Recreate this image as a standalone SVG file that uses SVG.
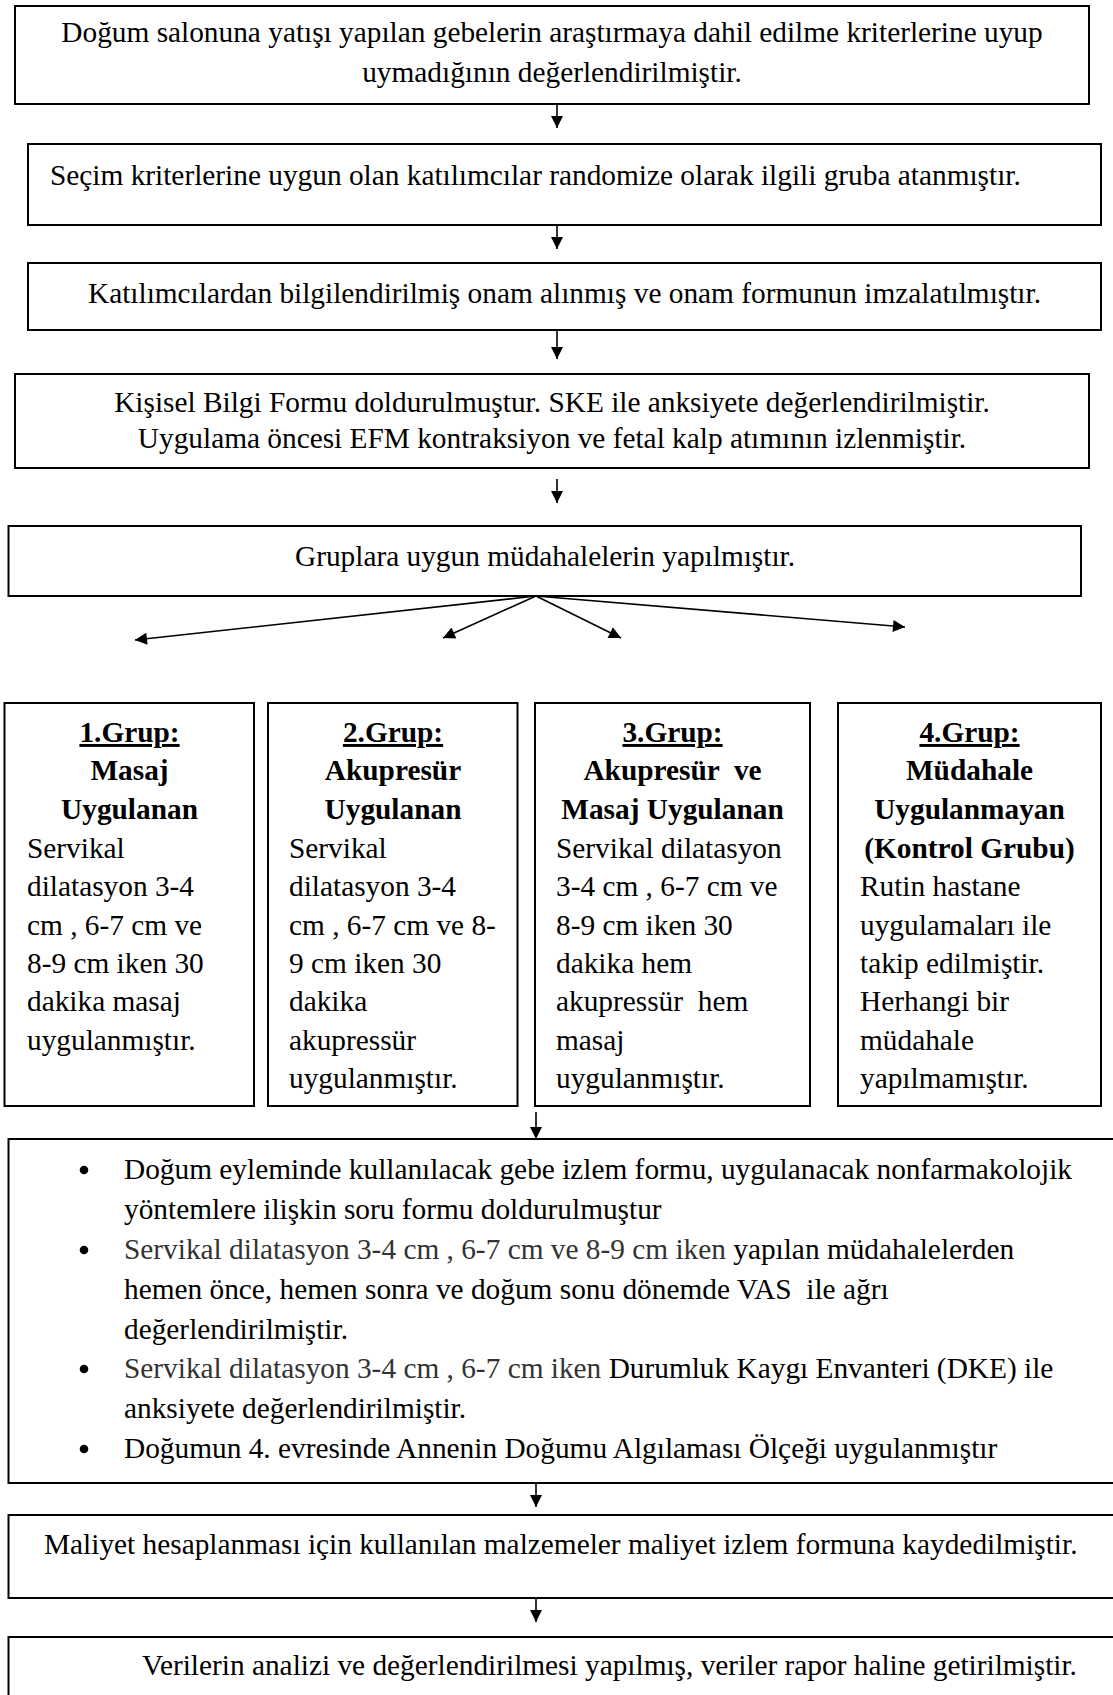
<svg xmlns="http://www.w3.org/2000/svg" width="1113" height="1695" viewBox="0 0 1113 1695">
<style>
.box{fill:#fff;stroke:#000;stroke-width:2}
.t{font-family:"Liberation Serif","Times New Roman",serif;font-size:29.33px;fill:#000}
.c{text-anchor:middle}
.b{font-weight:bold}
.u{text-decoration:underline}
.g{fill:#333}
.ln{stroke:#000;stroke-width:1.6;fill:none}
</style>
<defs>
<marker id="ah" viewBox="0 0 10 10" refX="10" refY="5" markerWidth="15" markerHeight="12" markerUnits="userSpaceOnUse" orient="auto">
<path d="M0,0 L10,5 L0,10 z" fill="#000"/>
</marker>
</defs>
<rect width="1113" height="1695" fill="#fff"/>

<g id="n1">
<rect class="box" x="15" y="6" width="1074" height="98"/>
<text class="t c" x="552" y="42">Doğum salonuna yatışı yapılan gebelerin araştırmaya dahil edilme kriterlerine uyup</text>
<text class="t c" x="552" y="82">uymadığının değerlendirilmiştir.</text>
</g>
<g id="n2">
<rect class="box" x="28" y="144" width="1073" height="81"/>
<text class="t" x="50" y="185">Seçim kriterlerine uygun olan katılımcılar randomize olarak ilgili gruba atanmıştır.</text>
</g>
<g id="n3">
<rect class="box" x="28" y="263" width="1073" height="67"/>
<text class="t c" x="564.5" y="303">Katılımcılardan bilgilendirilmiş onam alınmış ve onam formunun imzalatılmıştır.</text>
</g>
<g id="n4">
<rect class="box" x="15" y="374" width="1074" height="94"/>
<text class="t c" x="552" y="412">Kişisel Bilgi Formu doldurulmuştur. SKE ile anksiyete değerlendirilmiştir.</text>
<text class="t c" x="552" y="448">Uygulama öncesi EFM kontraksiyon ve fetal kalp atımının izlenmiştir.</text>
</g>
<g id="n5">
<rect class="box" x="8.5" y="526" width="1072.5" height="70"/>
<text class="t c" x="545" y="566">Gruplara uygun müdahalelerin yapılmıştır.</text>
</g>

<g id="g1">
<rect class="box" x="4.5" y="703" width="249.5" height="403"/>
<text class="t c b u" x="129.5" y="742">1.Grup:</text>
<text class="t c b" x="129.5" y="780">Masaj</text>
<text class="t c b" x="129.5" y="819">Uygulanan</text>
<text class="t" x="27" y="858">Servikal</text>
<text class="t" x="27" y="896">dilatasyon 3-4</text>
<text class="t" x="27" y="935">cm , 6-7 cm ve</text>
<text class="t" x="27" y="973">8-9 cm iken 30</text>
<text class="t" x="27" y="1011">dakika masaj</text>
<text class="t" x="27" y="1050">uygulanmıştır.</text>
</g>
<g id="g2">
<rect class="box" x="268" y="703" width="249.5" height="403"/>
<text class="t c b u" x="393" y="742">2.Grup:</text>
<text class="t c b" x="393" y="780">Akupresür</text>
<text class="t c b" x="393" y="819">Uygulanan</text>
<text class="t" x="289" y="858">Servikal</text>
<text class="t" x="289" y="896">dilatasyon 3-4</text>
<text class="t" x="289" y="935">cm , 6-7 cm ve 8-</text>
<text class="t" x="289" y="973">9 cm iken 30</text>
<text class="t" x="289" y="1011">dakika</text>
<text class="t" x="289" y="1050">akupressür</text>
<text class="t" x="289" y="1088">uygulanmıştır.</text>
</g>
<g id="g3">
<rect class="box" x="535" y="703" width="275" height="403"/>
<text class="t c b u" x="672.5" y="742">3.Grup:</text>
<text class="t c b" x="672.5" y="780" xml:space="preserve">Akupresür  ve</text>
<text class="t c b" x="672.5" y="819">Masaj Uygulanan</text>
<text class="t" x="556" y="858">Servikal dilatasyon</text>
<text class="t" x="556" y="896">3-4 cm , 6-7 cm ve</text>
<text class="t" x="556" y="935">8-9 cm iken 30</text>
<text class="t" x="556" y="973">dakika hem</text>
<text class="t" x="556" y="1011" xml:space="preserve">akupressür  hem</text>
<text class="t" x="556" y="1050">masaj</text>
<text class="t" x="556" y="1088">uygulanmıştır.</text>
</g>
<g id="g4">
<rect class="box" x="838" y="703" width="263" height="403"/>
<text class="t c b u" x="969.5" y="742">4.Grup:</text>
<text class="t c b" x="969.5" y="780">Müdahale</text>
<text class="t c b" x="969.5" y="819">Uygulanmayan</text>
<text class="t c b" x="969.5" y="858">(Kontrol Grubu)</text>
<text class="t" x="860" y="896">Rutin hastane</text>
<text class="t" x="860" y="935">uygulamaları ile</text>
<text class="t" x="860" y="973">takip edilmiştir.</text>
<text class="t" x="860" y="1011">Herhangi bir</text>
<text class="t" x="860" y="1050">müdahale</text>
<text class="t" x="860" y="1088">yapılmamıştır.</text>
</g>

<g id="n6">
<rect class="box" x="8.5" y="1139" width="1120" height="344"/>
<circle cx="84" cy="1170" r="4.3"/>
<circle cx="84" cy="1250" r="4.3"/>
<circle cx="84" cy="1369" r="4.3"/>
<circle cx="84" cy="1449" r="4.3"/>
<text class="t" x="124" y="1179">Doğum eyleminde kullanılacak gebe izlem formu, uygulanacak nonfarmakolojik</text>
<text class="t" x="124" y="1219">yöntemlere ilişkin soru formu doldurulmuştur</text>
<text class="t" x="124" y="1259"><tspan class="g">Servikal dilatasyon 3-4 cm , 6-7 cm ve 8-9 cm iken</tspan> yapılan müdahalelerden</text>
<text class="t" x="124" y="1299" xml:space="preserve">hemen önce, hemen sonra ve doğum sonu dönemde VAS  ile ağrı</text>
<text class="t" x="124" y="1339">değerlendirilmiştir.</text>
<text class="t" x="124" y="1378"><tspan class="g">Servikal dilatasyon 3-4 cm , 6-7 cm iken</tspan> Durumluk Kaygı Envanteri (DKE) ile</text>
<text class="t" x="124" y="1418">anksiyete değerlendirilmiştir.</text>
<text class="t" x="124" y="1458">Doğumun 4. evresinde Annenin Doğumu Algılaması Ölçeği uygulanmıştır</text>
</g>
<g id="n7">
<rect class="box" x="8.5" y="1515" width="1120" height="83"/>
<text class="t" x="44" y="1554">Maliyet hesaplanması için kullanılan malzemeler maliyet izlem formuna kaydedilmiştir.</text>
</g>
<g id="n8">
<rect class="box" x="8.5" y="1637" width="1120" height="80"/>
<text class="t" x="142" y="1675">Verilerin analizi ve değerlendirilmesi yapılmış, veriler rapor haline getirilmiştir.</text>
</g>

<g id="connectors">
<line class="ln" x1="557" y1="104" x2="557" y2="128" marker-end="url(#ah)"/>
<line class="ln" x1="557" y1="225" x2="557" y2="249" marker-end="url(#ah)"/>
<line class="ln" x1="557" y1="330" x2="557" y2="359" marker-end="url(#ah)"/>
<line class="ln" x1="557" y1="479" x2="557" y2="503" marker-end="url(#ah)"/>
<line class="ln" x1="536" y1="596" x2="135" y2="640" marker-end="url(#ah)"/>
<line class="ln" x1="536" y1="596" x2="443" y2="638" marker-end="url(#ah)"/>
<line class="ln" x1="536" y1="596" x2="621" y2="638" marker-end="url(#ah)"/>
<line class="ln" x1="536" y1="596" x2="905" y2="627" marker-end="url(#ah)"/>
<line class="ln" x1="536" y1="1112" x2="536" y2="1139" marker-end="url(#ah)"/>
<line class="ln" x1="536" y1="1483" x2="536" y2="1507" marker-end="url(#ah)"/>
<line class="ln" x1="536" y1="1598" x2="536" y2="1622" marker-end="url(#ah)"/>
</g>
</svg>
